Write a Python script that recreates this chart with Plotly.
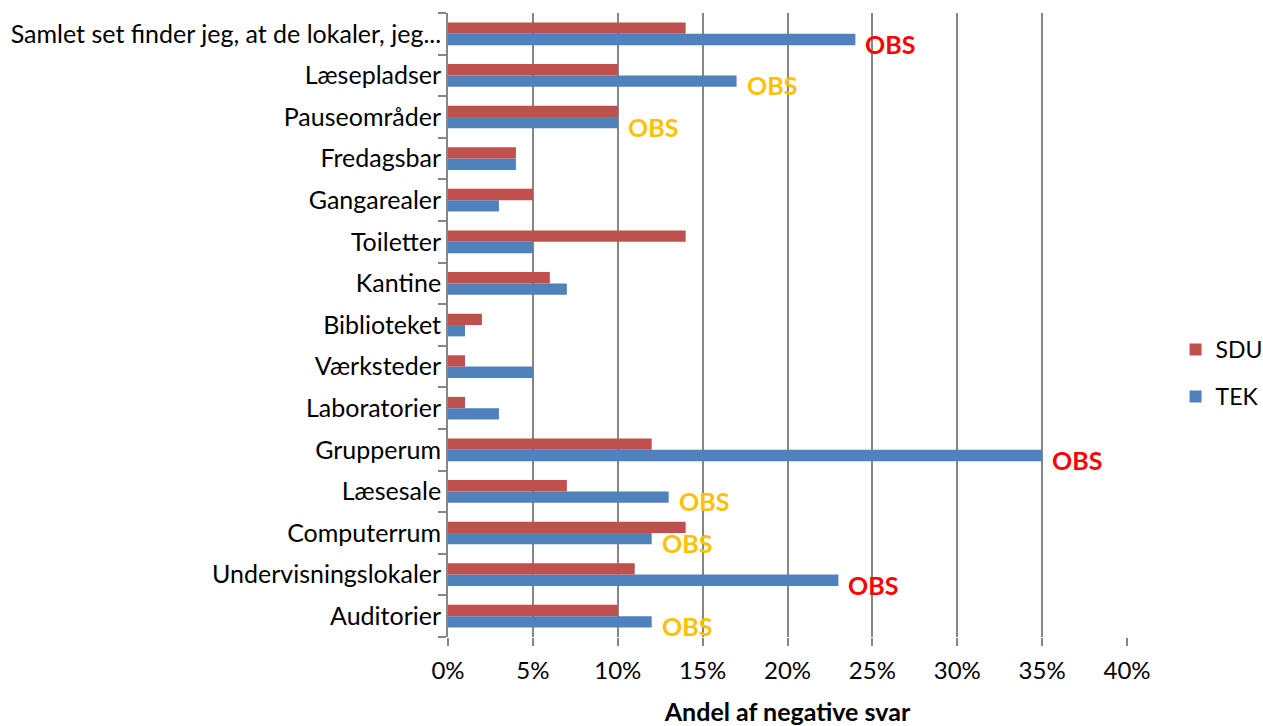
import plotly.graph_objects as go

categories = ["Auditorier", "Undervisningslokaler", "Computerrum", "Læsesale", "Grupperum",
              "Laboratorier", "Værksteder", "Biblioteket", "Kantine", "Toiletter",
              "Gangarealer", "Fredagsbar", "Pauseområder", "Læsepladser",
              "Samlet set finder jeg, at de lokaler, jeg..."]
sdu = [0.10, 0.11, 0.14, 0.07, 0.12, 0.01, 0.01, 0.02, 0.06, 0.14, 0.05, 0.04, 0.10, 0.10, 0.14]
tek = [0.12, 0.23, 0.12, 0.13, 0.35, 0.03, 0.05, 0.01, 0.07, 0.05, 0.03, 0.04, 0.10, 0.17, 0.24]
obs_flag = ["yellow", "red", "yellow", "yellow", "red", None, None, None, None, None,
            None, None, "yellow", "yellow", "red"]
obs_colors = {"red": "#FF0000", "yellow": "#FFC000"}
x_ticks = [0, 0.05, 0.10, 0.15, 0.20, 0.25, 0.30, 0.35, 0.40]
x_labels = ["0%", "5%", "10%", "15%", "20%", "25%", "30%", "35%", "40%"]

FONT = "Lato"

fig = go.Figure()
fig.add_trace(go.Bar(y=categories, x=tek, name="TEK", orientation="h",
                     marker=dict(color="#4F81BD", line=dict(width=0)),
                     legendgroup="b", legendrank=2))
fig.add_trace(go.Bar(y=categories, x=sdu, name="SDU", orientation="h",
                     marker=dict(color="#C0504D", line=dict(width=0)),
                     legendgroup="a", legendrank=1))

for cat, val, flag in zip(categories, tek, obs_flag):
    if flag:
        fig.add_annotation(x=val, y=cat, text="<b>OBS</b>", showarrow=False,
                           xanchor="left", yanchor="middle", xshift=8, yshift=-10,
                           font=dict(family=FONT, size=25, color=obs_colors[flag]))

fig.update_layout(
    template="none",
    width=1263, height=726,
    margin=dict(l=448, r=136, t=13, b=89, autoexpand=False),
    paper_bgcolor="white", plot_bgcolor="white",
    barmode="group", bargap=0.455, bargroupgap=0,
    font=dict(family=FONT, size=24, color="black"),
    legend=dict(x=1.0715, y=0.423, xanchor="left", yanchor="middle",
                traceorder="grouped", tracegroupgap=14,
                font=dict(family=FONT, size=23), itemwidth=30,
                bgcolor="rgba(0,0,0,0)"),
    showlegend=True,
)
fig.update_xaxes(range=[0, 0.40], tickvals=x_ticks, ticktext=x_labels,
                 showgrid=True, gridcolor="#868686", gridwidth=1.8,
                 showline=False, zeroline=False, automargin=False,
                 ticks="outside", ticklen=8, tickcolor="#868686", tickwidth=1.8,
                 ticklabelstandoff=4,
                 tickfont=dict(family=FONT, size=24),
                 title=dict(text="<b>Andel af negative svar</b>", font=dict(family=FONT, size=25),
                            standoff=22))
fig.update_yaxes(type="category", categoryorder="array", categoryarray=categories,
                 range=[-0.5, len(categories) - 0.5],
                 showline=True, linecolor="#868686", linewidth=1.8, automargin=False,
                 ticks="outside", ticklen=8, tickcolor="#868686", tickwidth=1.8,
                 tickson="boundaries", showgrid=False, zeroline=False,
                 tickfont=dict(family=FONT, size=25))

fig.write_html("out.html", config={"displayModeBar": False},
               post_script="document.body.style.margin='0';")
